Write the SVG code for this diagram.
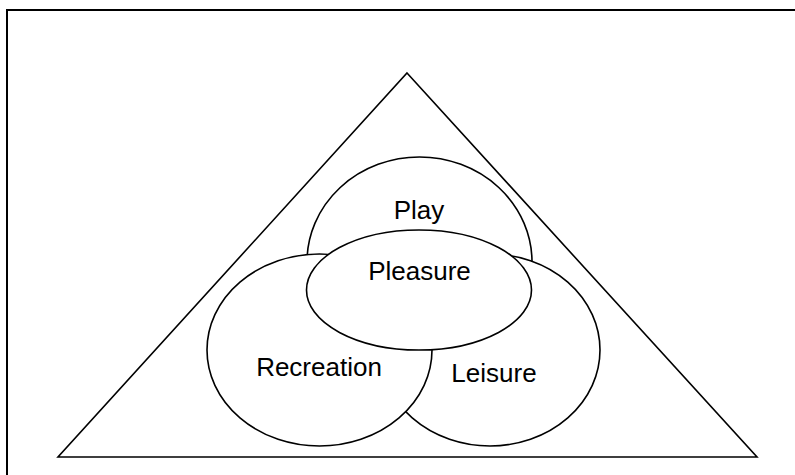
<svg xmlns="http://www.w3.org/2000/svg" width="795" height="475" viewBox="0 0 795 475">
  <style>
    .frame { fill: none; stroke: #000; stroke-width: 2; }
    .tri { fill: #fff; stroke: #000; stroke-width: 1.6; stroke-linejoin: miter; }
    .set { fill: #fff; stroke: #000; stroke-width: 1.6; }
    .label { font-family: "Liberation Sans", Arial, sans-serif; font-size: 26px; fill: #000; text-anchor: middle; }
  </style>
  <rect width="795" height="475" fill="#fff"/>
  <rect class="frame" x="7" y="10" width="800" height="480"/>
  <g id="triangle">
    <polygon class="tri" points="407,73 757,457 58,457"/>
  </g>
  <g id="connectors"></g>
  <g id="play">
    <ellipse class="set" cx="419.5" cy="262" rx="112.5" ry="105"/>
    <text class="label" x="419" y="219">Play</text>
  </g>
  <g id="leisure">
    <ellipse class="set" cx="490" cy="350" rx="110" ry="96"/>
    <text class="label" x="494" y="382">Leisure</text>
  </g>
  <g id="recreation">
    <ellipse class="set" cx="319.5" cy="350" rx="112.5" ry="96"/>
    <text class="label" x="319" y="376">Recreation</text>
  </g>
  <g id="pleasure">
    <ellipse class="set" cx="419" cy="290" rx="112.5" ry="60"/>
    <text class="label" x="419.5" y="280">Pleasure</text>
  </g>
</svg>
